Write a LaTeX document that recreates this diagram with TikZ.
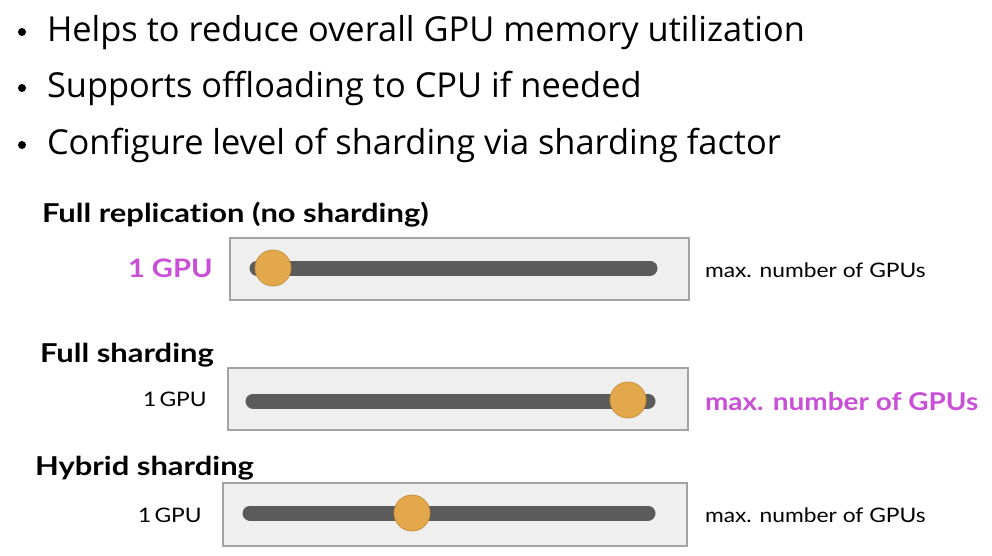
\documentclass[tikz,border=0pt]{standalone}
\usepackage{fontspec}
\setmainfont{Open Sans}
\newfontfamily\lato[FakeStretch=1.14,Ligatures=NoCommon]{Lato}
\newfontfamily\latot[FakeStretch=1.19,Ligatures=NoCommon]{Lato}
\definecolor{mag}{HTML}{C84FD6}
\definecolor{knob}{HTML}{E2A84B}
\definecolor{knobedge}{HTML}{C8913A}
\definecolor{track}{HTML}{5B5B5B}
\definecolor{boxfill}{HTML}{EFEFEF}
\definecolor{boxedge}{HTML}{A3A3A3}
\tikzset{
  txt/.style={anchor=base west, inner sep=0pt, outer sep=0pt},
  bullettxt/.style={txt, font=\fontsize{34.4}{36}\selectfont},
  title/.style={txt, font=\latot\bfseries\fontsize{26}{30}\selectfont},
  lab/.style={txt, font=\lato\fontsize{20}{24}\selectfont},
  lablarge/.style={txt, font=\lato\bfseries\fontsize{24.5}{28}\selectfont, text=mag},
  panel/.style={draw=boxedge, fill=boxfill, line width=1.2pt},
  trackline/.style={draw=track, line width=15pt, line cap=round},
  knobdot/.style={circle, fill=knob, draw=knobedge, line width=0.8pt, minimum size=36pt, inner sep=0pt}
}
\begin{document}
\begin{tikzpicture}[x=1pt,y=-1pt]
\useasboundingbox (0,0) rectangle (992,556);
% bullets
\foreach \yy in {32, 88, 145}
  \fill (22,\yy) circle (4pt);
\node[bullettxt] (t1) at (47,42) {Helps to reduce overall GPU memory utilization};
\node[bullettxt] (t2) at (47,98) {Supports offloading to CPU if needed};
\node[bullettxt] (t3) at (47,155) {Configure level of sharding via sharding factor};
% panel 1
\node[title] (h1) at (42,222) {Full replication (no sharding)};
\draw[panel] (230,238) rectangle (689,300);
\coordinate (a1) at (257,268);
\coordinate (e1) at (650,268);
\draw[trackline] (a1) -- (e1);
\node[knobdot] (k1) at (273,268) {};
\node[txt, font=\lato\bfseries\fontsize{25.5}{30}\selectfont, text=mag] (l1) at (128,277) {1 GPU};
\node[lab] (r1) at (705,277) {max. number of GPUs};
% panel 2
\node[title] (h2) at (40,362) {Full sharding};
\draw[panel] (228,368) rectangle (688,430);
\coordinate (a2) at (253,401);
\coordinate (e2) at (648,401);
\draw[trackline] (a2) -- (e2);
\node[knobdot] (k2) at (628,400) {};
\node[lab] (l2) at (143,406) {1\,GPU};
\node[lablarge] (r2) at (705,410) {max. number of GPUs};
% panel 3
\node[title] (h3) at (35,475) {Hybrid sharding};
\draw[panel] (223,483) rectangle (687,546);
\coordinate (a3) at (250,513);
\coordinate (e3) at (648,513);
\draw[trackline] (a3) -- (e3);
\node[knobdot] (k3) at (412,513) {};
\node[lab] (l3) at (138,522) {1\,GPU};
\node[lab] (r3) at (705,522) {max. number of GPUs};
\end{tikzpicture}
\end{document}
